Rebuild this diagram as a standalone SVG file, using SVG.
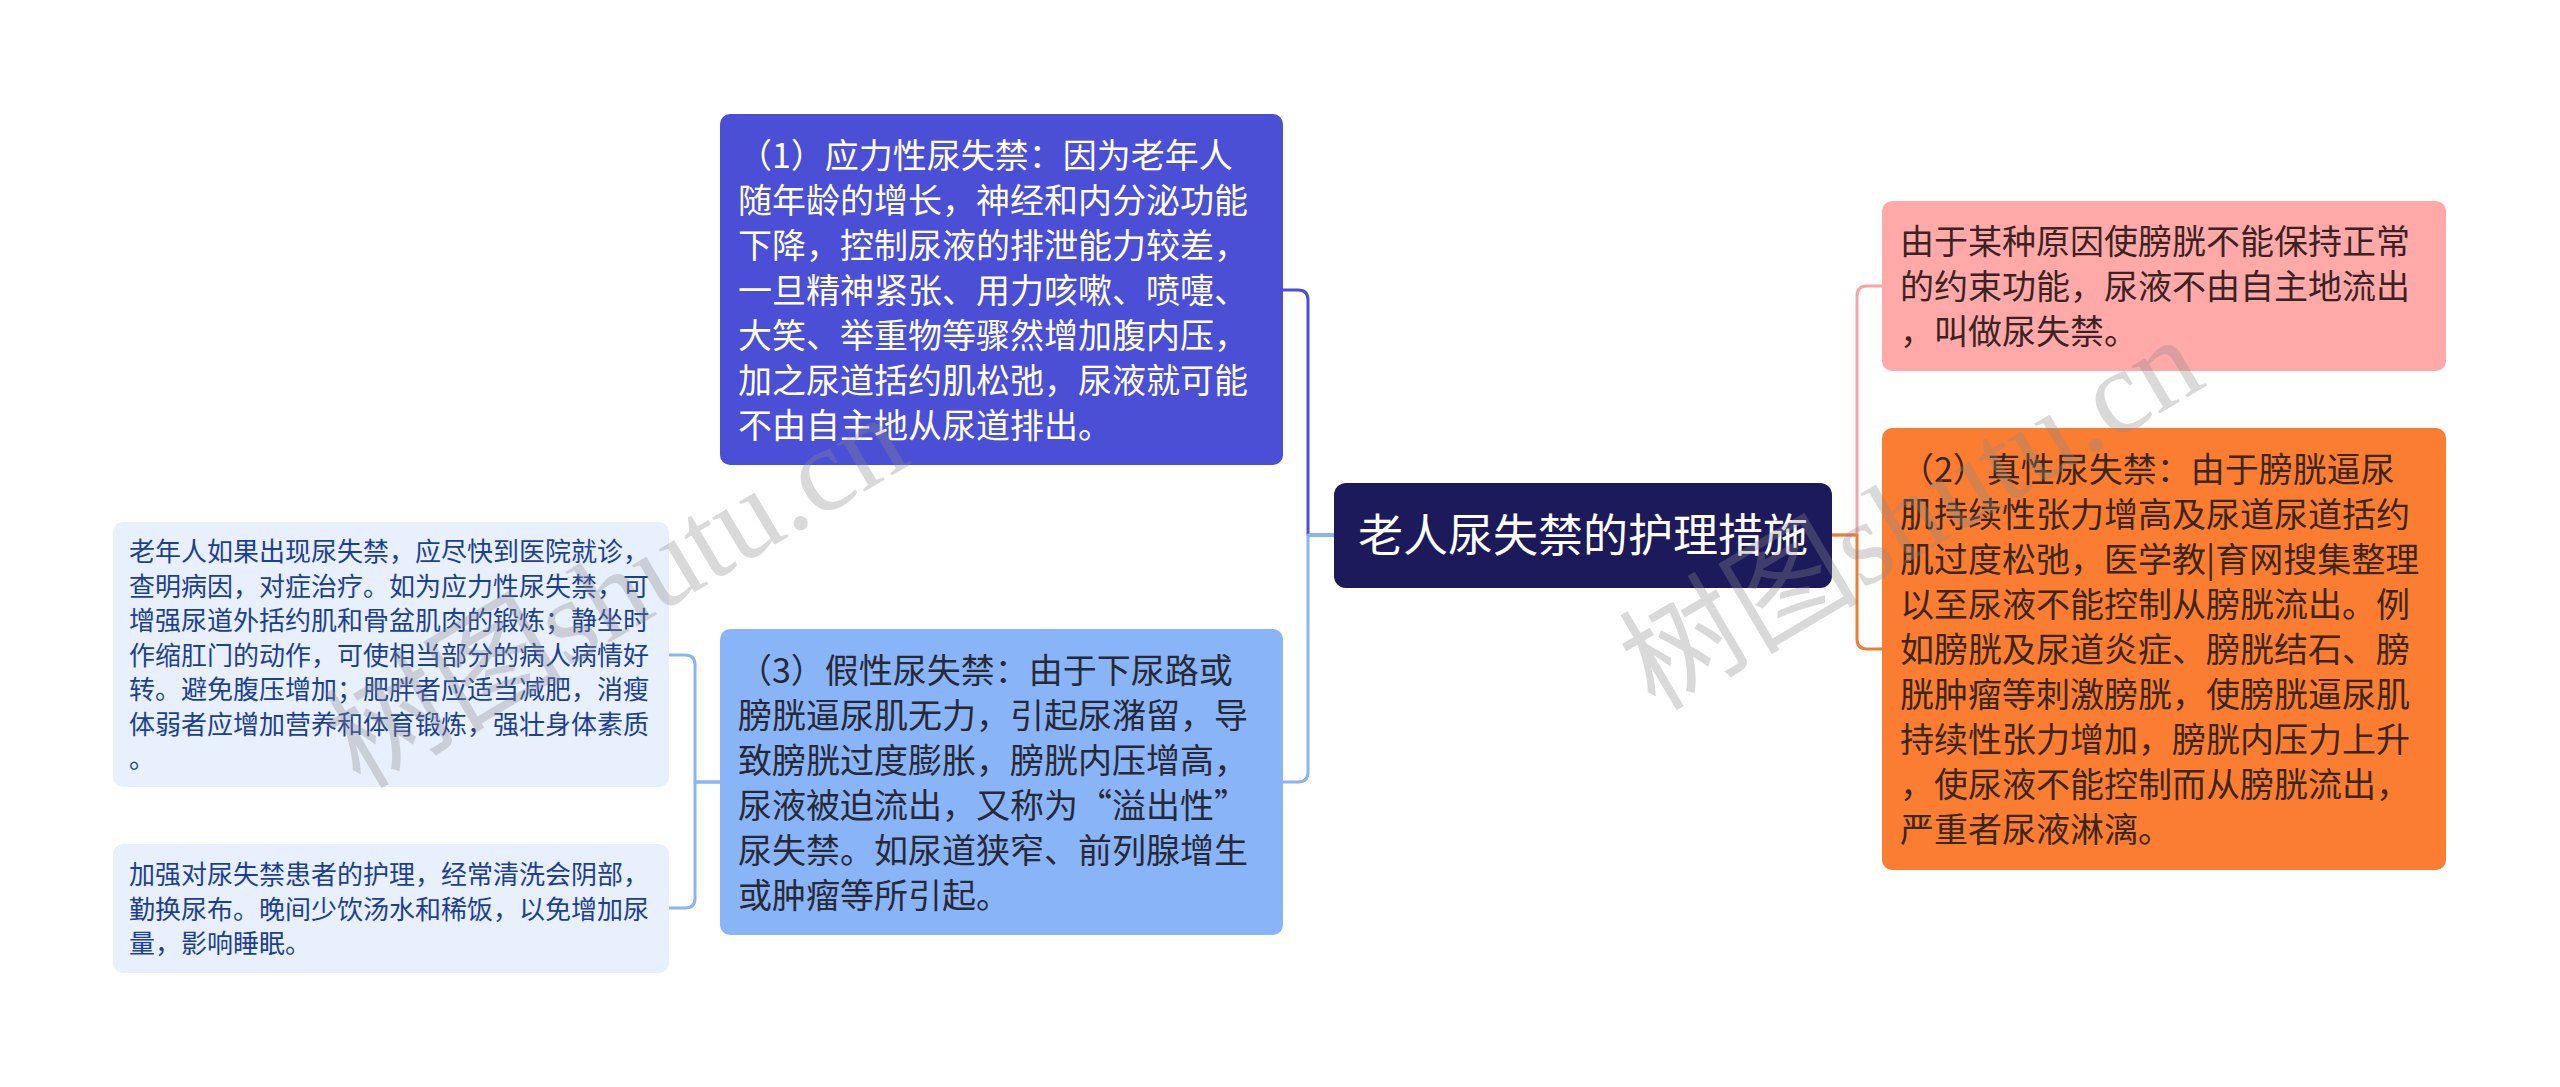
<svg xmlns="http://www.w3.org/2000/svg" width="2560" height="1087" viewBox="0 0 2560 1087">
<style>
text{font-family:"Noto Sans CJK SC","Noto Sans",sans-serif}
.big{font-size:34px}
.small{font-size:26px}
.conn{fill:none;stroke-width:3;stroke-linejoin:round}
.wm{font-family:"Liberation Serif","Noto Sans CJK SC",serif;font-size:120px;fill:#8a8a8a;opacity:0.32}
</style>
<rect width="2560" height="1087" fill="#ffffff"/>
<g id="connectors">
<path class="conn" stroke="#4a4fd5" d="M1334 535 H1308 V300 Q1308 290 1298 290 H1283"/>
<path class="conn" stroke="#8ab4f8" d="M1334 535 H1308 V772 Q1308 782 1298 782 H1283"/>
<path class="conn" stroke="#8ab4f8" d="M720 782 H695 V665 Q695 655 685 655 H669"/>
<path class="conn" stroke="#8ab4f8" d="M720 782 H695 V898 Q695 908 685 908 H669"/>
<path class="conn" stroke="#f5a5a8" d="M1832 535 H1857 V296 Q1857 286 1867 286 H1882"/>
<path class="conn" stroke="#f07b33" d="M1832 535 H1857 V639 Q1857 649 1867 649 H1882"/>
</g>
<g id="root">
<rect x="1334" y="483" width="498" height="105" rx="12" fill="#1c1a5b"/>
<text x="1583" y="552" font-size="45" fill="#ffffff" text-anchor="middle">老人尿失禁的护理措施</text>
</g>
<g id="node1">
<rect x="720" y="114" width="563" height="351" rx="10" fill="#4a4fd5"/>
<text class="big" fill="#ffffff">
<tspan x="738" y="168">（1）应力性尿失禁：因为老年人</tspan>
<tspan x="738" y="213">随年龄的增长，神经和内分泌功能</tspan>
<tspan x="738" y="258">下降，控制尿液的排泄能力较差，</tspan>
<tspan x="738" y="303">一旦精神紧张、用力咳嗽、喷嚏、</tspan>
<tspan x="738" y="348">大笑、举重物等骤然增加腹内压，</tspan>
<tspan x="738" y="393">加之尿道括约肌松弛，尿液就可能</tspan>
<tspan x="738" y="438">不由自主地从尿道排出。</tspan>
</text>
</g>
<g id="node3">
<rect x="720" y="629" width="563" height="306" rx="10" fill="#8ab4f8"/>
<text class="big" fill="#262a36">
<tspan x="738" y="683">（3）假性尿失禁：由于下尿路或</tspan>
<tspan x="738" y="728">膀胱逼尿肌无力，引起尿潴留，导</tspan>
<tspan x="738" y="773">致膀胱过度膨胀，膀胱内压增高，</tspan>
<tspan x="738" y="818">尿液被迫流出，又称为“溢出性”</tspan>
<tspan x="738" y="863">尿失禁。如尿道狭窄、前列腺增生</tspan>
<tspan x="738" y="908">或肿瘤等所引起。</tspan>
</text>
</g>
<g id="left1">
<rect x="113" y="522" width="556" height="265" rx="10" fill="#e8f0fd"/>
<text class="small" fill="#1c3f94">
<tspan x="129" y="561">老年人如果出现尿失禁，应尽快到医院就诊，</tspan>
<tspan x="129" y="595.5">查明病因，对症治疗。如为应力性尿失禁，可</tspan>
<tspan x="129" y="630">增强尿道外括约肌和骨盆肌肉的锻炼；静坐时</tspan>
<tspan x="129" y="664.5">作缩肛门的动作，可使相当部分的病人病情好</tspan>
<tspan x="129" y="699">转。避免腹压增加；肥胖者应适当减肥，消瘦</tspan>
<tspan x="129" y="733.5">体弱者应增加营养和体育锻炼，强壮身体素质</tspan>
<tspan x="129" y="768">。</tspan>
</text>
</g>
<g id="left2">
<rect x="113" y="844" width="556" height="129" rx="10" fill="#e8f0fd"/>
<text class="small" fill="#1c3f94">
<tspan x="129" y="884">加强对尿失禁患者的护理，经常清洗会阴部，</tspan>
<tspan x="129" y="918.5">勤换尿布。晚间少饮汤水和稀饭，以免增加尿</tspan>
<tspan x="129" y="953">量，影响睡眠。</tspan>
</text>
</g>
<g id="pink">
<rect x="1882" y="201" width="564" height="170" rx="10" fill="#ffa9a9"/>
<text class="big" fill="#3b2323">
<tspan x="1900" y="254">由于某种原因使膀胱不能保持正常</tspan>
<tspan x="1900" y="299">的约束功能，尿液不由自主地流出</tspan>
<tspan x="1900" y="344">，叫做尿失禁。</tspan>
</text>
</g>
<g id="orange">
<rect x="1882" y="428" width="564" height="442" rx="10" fill="#fa7d32"/>
<text class="big" fill="#3d2614">
<tspan x="1900" y="482">（2）真性尿失禁：由于膀胱逼尿</tspan>
<tspan x="1900" y="527">肌持续性张力增高及尿道尿道括约</tspan>
<tspan x="1900" y="572">肌过度松弛，医学教|育网搜集整理</tspan>
<tspan x="1900" y="617">以至尿液不能控制从膀胱流出。例</tspan>
<tspan x="1900" y="662">如膀胱及尿道炎症、膀胱结石、膀</tspan>
<tspan x="1900" y="707">胱肿瘤等刺激膀胱，使膀胱逼尿肌</tspan>
<tspan x="1900" y="752">持续性张力增加，膀胱内压力上升</tspan>
<tspan x="1900" y="797">，使尿液不能控制而从膀胱流出，</tspan>
<tspan x="1900" y="842">严重者尿液淋漓。</tspan>
</text>
</g>
<g id="watermark">
<text class="wm" transform="translate(360 790) rotate(-30.6)">树图shutu.cn</text>
<text class="wm" transform="translate(1655 712) rotate(-30.6)">树图shutu.cn</text>
</g>
</svg>
